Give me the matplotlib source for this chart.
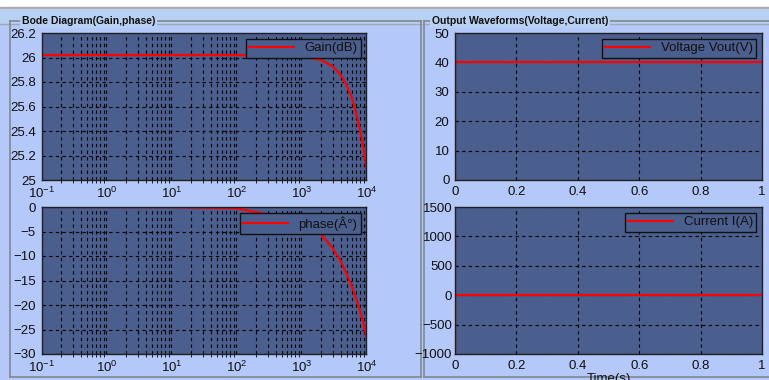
import matplotlib.pyplot as plt
from matplotlib.patches import Rectangle
from matplotlib.lines import Line2D

plt.rcParams['font.family'] = ['Liberation Sans', 'DejaVu Sans']

# Bode data
freq = [0.1, 1, 10, 100, 1000, 2000, 3000, 4000, 5000, 6000, 7000, 8000, 9000, 10000]
gain_db = [26.02, 26.02, 26.02, 26.02, 26.01, 25.98, 25.93, 25.86, 25.77, 25.67, 25.54, 25.41, 25.26, 25.10]
phase_deg = [-0.0, -0.0, -0.03, -0.28, -2.8, -5.6, -8.3, -11.0, -13.7, -16.3, -18.8, -21.2, -23.6, -26.5]

# output waveforms
t_v = [0, 0, 1]
v_out = [0, 40, 40]
t_i = [0, 0, 0, 1]
i_out = [1100, -1000, 0, 0]

W, H = 769, 380
bg = '#b4c8fa'
axbg = '#4b5f8e'
txt = '#101010'

fig = plt.figure(figsize=(W / 100, H / 100), dpi=100)
fig.patch.set_facecolor(bg)


def px(x, y, w, h):
    return [x / W, 1 - (y + h) / H, w / W, h / H]


# window chrome at the top
fig.add_artist(Rectangle((0, 1 - 7 / H), 1, 7 / H, transform=fig.transFigure, color='white', zorder=-2))
fig.add_artist(Rectangle((0, 1 - 9.5 / H), 1, 2.5 / H, transform=fig.transFigure, color='#b0a8a8', zorder=-2))
fig.add_artist(Rectangle((0, 1 - 23 / H), 1, 13.5 / H, transform=fig.transFigure, color='#b8d0f2', zorder=-2))
fig.add_artist(Line2D([0, 1], [1 - 23.5 / H] * 2, transform=fig.transFigure, color='#a0a8b8', lw=1, zorder=-2))


def group(x0, x1, title, tx):
    c = '#808890'
    y0, y1 = 1 - 20.5 / H, 1 - 377 / H
    kw = dict(transform=fig.transFigure, color=c, lw=1.2, zorder=-1)
    fig.add_artist(Line2D([x0 / W, x0 / W], [y0, y1], **kw))
    fig.add_artist(Line2D([x1 / W, x1 / W], [y0, y1], **kw))
    fig.add_artist(Line2D([x0 / W, x1 / W], [y1, y1], **kw))
    fig.add_artist(Line2D([x0 / W, x1 / W], [y0, y0], **kw))
    fig.text(tx / W, y0, title, fontsize=7.5, fontweight='bold', va='center', ha='left',
             color=txt, zorder=-0.5,
             bbox=dict(facecolor='#b8d0f2', edgecolor='none', pad=1.5))


group(10, 421.5, 'Bode Diagram(Gain,phase)', 22)
group(423.5, 790, 'Output Waveforms(Voltage,Current)', 432)


def style(ax):
    ax.set_facecolor(axbg)
    for s in ax.spines.values():
        s.set_color('#202020')
        s.set_linewidth(1)
    ax.tick_params(labelsize=9.5, colors=txt, length=0, pad=4)
    ax.grid(True, which='major', color='black', ls=(0, (3, 3)), lw=0.8)


def legend(ax, label):
    lg = ax.legend(loc='upper right', fontsize=9.5, facecolor=axbg, edgecolor='#101010',
                   fancybox=False, framealpha=1, borderaxespad=0.45, handlelength=3.4,
                   borderpad=0.25, labelcolor=txt)
    lg.get_frame().set_linewidth(1)


ax1 = fig.add_axes(px(41.5, 33, 325, 147))
ax1.semilogx(freq, gain_db, color='red', lw=1.6, label='Gain(dB)')
ax1.set_xlim(0.1, 1e4)
ax1.set_ylim(25, 26.2)
ax1.set_yticks([25, 25.2, 25.4, 25.6, 25.8, 26, 26.2])
ax1.set_yticklabels(['25', '25.2', '25.4', '25.6', '25.8', '26', '26.2'])
style(ax1)
ax1.grid(True, which='minor', axis='x', color='black', ls=(0, (3, 3)), lw=0.8)
legend(ax1, 'Gain(dB)')

ax2 = fig.add_axes(px(41.5, 207, 325, 147))
ax2.semilogx(freq, phase_deg, color='red', lw=1.6, label='phase(Â°)')
ax2.set_xlim(0.1, 1e4)
ax2.set_ylim(-30, 0)
ax2.set_yticks(range(-30, 1, 5))
style(ax2)
ax2.grid(True, which='minor', axis='x', color='black', ls=(0, (3, 3)), lw=0.8)
legend(ax2, 'phase(Â°)')

ax3 = fig.add_axes(px(455, 33, 307, 147))
ax3.plot(t_v, v_out, color='red', lw=1.6, label='Voltage Vout(V)')
ax3.set_xlim(0, 1)
ax3.set_ylim(0, 50)
ax3.set_xticks([0, 0.2, 0.4, 0.6, 0.8, 1])
ax3.set_xticklabels(['0', '0.2', '0.4', '0.6', '0.8', '1'])
style(ax3)
legend(ax3, 'Voltage Vout(V)')

ax4 = fig.add_axes(px(455, 207, 307, 147))
ax4.plot(t_i, i_out, color='red', lw=1.6, label='Current I(A)')
ax4.set_xlim(0, 1)
ax4.set_ylim(-1000, 1500)
ax4.set_xticks([0, 0.2, 0.4, 0.6, 0.8, 1])
ax4.set_xticklabels(['0', '0.2', '0.4', '0.6', '0.8', '1'])
style(ax4)
ax4.tick_params(axis='y', pad=2)
ax4.set_xlabel('Time(s)', fontsize=9.5, color=txt, labelpad=1)
legend(ax4, 'Current I(A)')

fig.savefig('out.png', dpi=100, facecolor=fig.get_facecolor())
